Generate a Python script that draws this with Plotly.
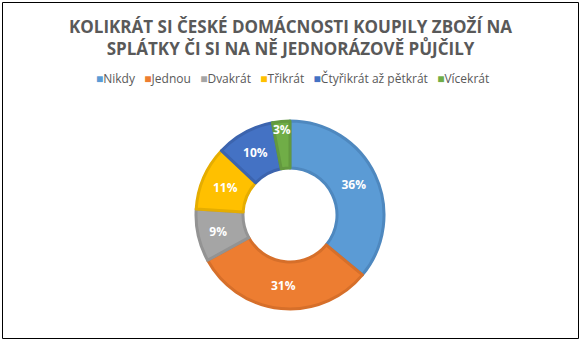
import plotly.graph_objects as go

labels = ["Nikdy", "Jednou", "Dvakrát", "Třikrát", "Čtyřikrát až pětkrát", "Vícekrát"]
values = [36, 31, 9, 11, 10, 3]
colors = ["#5B9BD5", "#ED7D31", "#A5A5A5", "#FFC000", "#4472C4", "#70AD47"]
borders = ["#4E88BF", "#D66F2A", "#939393", "#E5AD00", "#3C64AE", "#63993F"]
title = "<b>KOLIKRÁT SI ČESKÉ DOMÁCNOSTI KOUPILY ZBOŽÍ NA<br>SPLÁTKY ČI SI NA NĚ JEDNORÁZOVĚ PŮJČILY</b>"

W, H = 581, 344
cx, cy, r = 290, 215, 94

fig = go.Figure(go.Pie(
    labels=labels, values=values, sort=False, direction="clockwise", rotation=0,
    hole=0.5,
    marker=dict(colors=colors, line=dict(color=borders, width=3)),
    texttemplate="<b>%{percent:.0%}</b>", textposition="inside",
    insidetextorientation="horizontal",
    textfont=dict(color="white", size=12, family="Open Sans"),
    domain=dict(x=[(cx - r) / W, (cx + r) / W], y=[(H - cy - r) / H, (H - cy + r) / H]),
    showlegend=False,
))

legend_text = "&nbsp;&nbsp;&nbsp;".join(
    f'<span style="color:{c}">■</span>{l}' for l, c in zip(labels, colors)
)

fig.update_layout(
    width=W, height=H,
    margin=dict(l=0, r=0, t=0, b=0),
    paper_bgcolor="white",
    font=dict(family="Open Sans", color="#595959"),
    uniformtext=dict(minsize=12, mode="show"),
    annotations=[
        dict(text=title, x=0.5, y=1 - 38 / H, xref="paper", yref="paper",
             xanchor="center", yanchor="middle", showarrow=False,
             font=dict(size=17, color="#595959", family="Open Sans")),
        dict(text=legend_text, x=292 / W, y=1 - 79 / H, xref="paper", yref="paper",
             xanchor="center", yanchor="middle", showarrow=False,
             font=dict(size=12, color="#595959", family="Open Sans")),
    ],
    shapes=[dict(type="rect", xref="paper", yref="paper",
                 x0=2.5 / W, x1=578.5 / W, y0=1 - 338.5 / H, y1=1 - 2.5 / H,
                 line=dict(color="black", width=1))],
)

fig.write_html("out.html")
